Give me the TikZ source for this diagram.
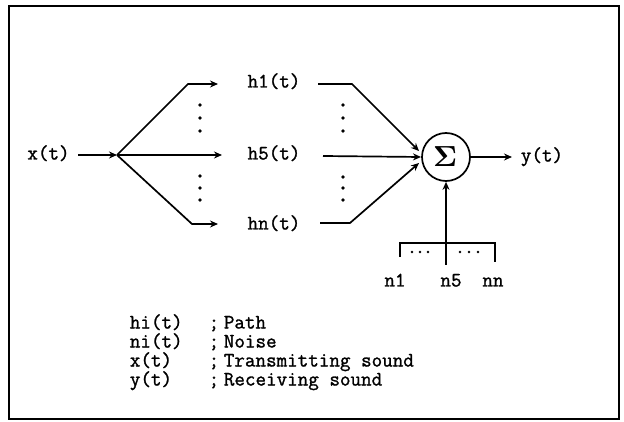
\documentclass[tikz,border=0pt]{standalone}
\usepackage{fontspec}
\usepackage{unicode-math}
\newfontfamily\tw{Latin Modern Mono}[FakeBold=1.3]
\usetikzlibrary{arrows.meta}
\begin{document}
\begin{tikzpicture}[x=1pt, y=-1pt, line width=1.7pt,
  lbl/.style={font=\tw\fontsize{20.5}{24}\selectfont, inner sep=0pt,
              text height=12pt, text depth=3pt},
  arr/.style={-{Stealth[length=8pt,width=7pt]}},
  vdot/.style={circle, fill, inner sep=0pt, minimum size=3.8pt},
  sdot/.style={circle, fill, inner sep=0pt, minimum size=2.8pt}]
\useasboundingbox (0,0) rectangle (624,422);
% frame
\draw[line width=1.8pt] (9,6) rectangle (619,419);

% input and fan-out
\node[lbl] (x) at (48.5,155) {x(t)};
\coordinate (xs) at (78,155);
\coordinate (j) at (117,155);
\draw[arr] (xs) -- (j);
\coordinate (c1) at (188,84);
\coordinate (t1) at (218,84);
\coordinate (t5) at (222,155);
\coordinate (cn) at (192,224);
\coordinate (tn) at (218,224);
\draw[arr] (j) -- (c1) -- (t1);
\draw[arr] (j) -- (t5);
\draw[arr] (j) -- (cn) -- (tn);
\foreach \yy [count=\i] in {105,118,131,176,188,200}
  \node[vdot] (ld\i) at (200,\yy) {};

% paths
\node[lbl] (h1) at (274,83) {h1(t)};
\node[lbl] (h5) at (274,155) {h5(t)};
\node[lbl] (hn) at (274,225) {hn(t)};

% summing junction
\node[draw, circle, minimum size=48pt, inner sep=0pt,
      font=\fontsize{29}{29}\selectfont] (sum) at (446,157) {$\symbf{\Sigma}$};

\coordinate (s1) at (318,84);
\coordinate (k1) at (352,84);
\coordinate (e1) at (419,151);
\coordinate (s5) at (323,156);
\coordinate (e5) at (421,157);
\coordinate (sn) at (320,223);
\coordinate (kn) at (350,223);
\coordinate (en) at (419,163);
\draw[arr] (s1) -- (k1) -- (e1);
\draw[arr] (s5) -- (e5);
\draw[arr] (sn) -- (kn) -- (en);
\foreach \yy [count=\i] in {105,118,131,177,188,200}
  \node[vdot] (rd\i) at (343,\yy) {};

% output
\coordinate (yo) at (512,157);
\draw[arr] (sum.east) -- (yo);
\node[lbl] (y) at (542,157) {y(t)};

% noise inputs
\coordinate (nb) at (446,265);
\draw[arr] (nb) -- (sum.south);
\draw (400,257) -- (400,243) -- (495,243) -- (495,262);
\foreach \xx [count=\i] in {412,420,428,460,469,478}
  \node[sdot] (nd\i) at (\xx,252) {};
\node[lbl] (n1) at (395,282) {n1};
\node[lbl] (n5) at (451,282) {n5};
\node[lbl] (nn) at (493,282) {nn};

% legend
\foreach \nm/\ds [count=\i] in {hi(t)/Path, ni(t)/Noise, x(t)/Transmitting sound, y(t)/Receiving sound}{
  \node[lbl, anchor=west] (ka\i) at (129,305+19*\i) {\nm};
  \node[lbl] (kb\i) at (214,305+19*\i) {;};
  \node[lbl, anchor=west] (kc\i) at (223,305+19*\i) {\ds};
}
\end{tikzpicture}
\end{document}
